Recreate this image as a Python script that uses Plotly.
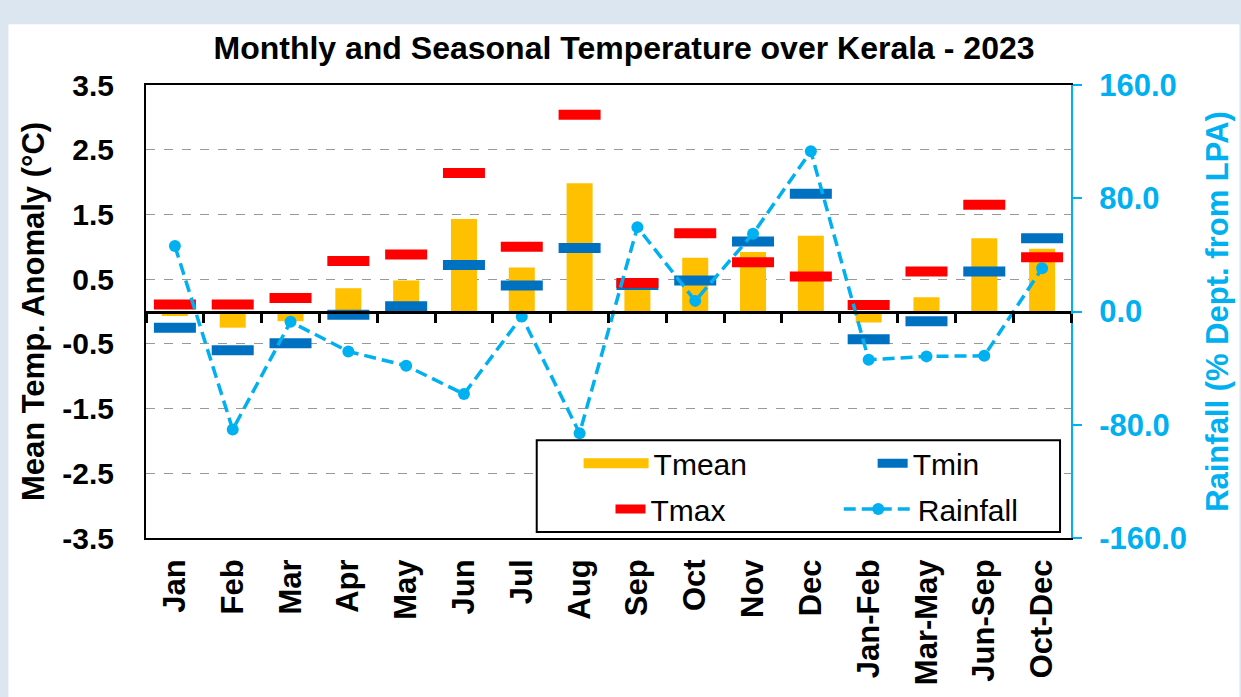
import plotly.graph_objects as go

categories = ["Jan", "Feb", "Mar", "Apr", "May", "Jun", "Jul", "Aug", "Sep", "Oct",
              "Nov", "Dec", "Jan-Feb", "Mar-May", "Jun-Sep", "Oct-Dec"]
tmean = [-0.07, -0.25, -0.15, 0.36, 0.48, 1.43, 0.68, 1.98, 0.40, 0.83, 0.92, 1.17, -0.17, 0.22, 1.13, 0.97]
tmax = [0.11, 0.11, 0.21, 0.78, 0.88, 2.14, 1.00, 3.04, 0.44, 1.21, 0.76, 0.54, 0.10, 0.62, 1.65, 0.84]
tmin = [-0.25, -0.60, -0.49, -0.05, 0.08, 0.72, 0.40, 0.98, 0.41, 0.48, 1.08, 1.82, -0.43, -0.15, 0.62, 1.13]
rainfall = [46.2, -83.4, -7.3, -28.2, -38.3, -58.3, -3.5, -86.0, 59.6, 7.5, 55.0, 113.2, -34.1, -31.7, -31.3, 30.5]
left_ticks = [-3.5, -2.5, -1.5, -0.5, 0.5, 1.5, 2.5, 3.5]
right_ticks = [-160, -80, 0, 80, 160]

C_MEAN = "#FFC000"
C_MAX = "#FF0000"
C_MIN = "#0070C0"
C_RAIN = "#00B0F0"
FONT = "Arial, Liberation Sans, sans-serif"

W, H = 1241, 697
ML, MR, MT, MB = 146, 167, 85, 158
PW, PH = W - ML - MR, H - MT - MB


def px_x(x):
    return (x - ML) / PW


def px_y(y):
    return (H - MB - y) / PH


fig = go.Figure()

# data traces
fig.add_trace(go.Bar(x=categories, y=tmean, name="Tmean", marker=dict(color=C_MEAN, line=dict(width=0)),
                     width=0.45, showlegend=False))
fig.add_trace(go.Scatter(x=categories, y=tmin, mode="markers", name="Tmin", showlegend=False,
                         marker=dict(symbol="line-ew", size=30, color=C_MIN,
                                     line=dict(color=C_MIN, width=10))))
fig.add_trace(go.Scatter(x=categories, y=tmax, mode="markers", name="Tmax", showlegend=False,
                         marker=dict(symbol="line-ew", size=30, color=C_MAX,
                                     line=dict(color=C_MAX, width=10))))
fig.add_trace(go.Scatter(x=categories, y=rainfall, mode="lines+markers", name="Rainfall",
                         yaxis="y2", legend="legend4",
                         line=dict(color=C_RAIN, width=3.5, dash="12px,6px"),
                         marker=dict(symbol="circle", size=12, color=C_RAIN)))
# legend swatches
fig.add_trace(go.Scatter(x=[None], y=[None], mode="lines", name="Tmean", legend="legend",
                         line=dict(color=C_MEAN, width=10)))
fig.add_trace(go.Scatter(x=[None], y=[None], mode="lines", name="Tmin", legend="legend2",
                         line=dict(color=C_MIN, width=9)))
fig.add_trace(go.Scatter(x=[None], y=[None], mode="lines", name="Tmax", legend="legend3",
                         line=dict(color=C_MAX, width=9)))
# helper trace for the zero-line axis
fig.add_trace(go.Scatter(x=categories, y=[None] * len(categories), xaxis="x2", mode="lines",
                         showlegend=False, hoverinfo="skip"))

white_bg = dict(type="rect", xref="paper", yref="paper", layer="below",
                x0=px_x(8), x1=px_x(W + 2), y0=px_y(H + 2), y1=px_y(24),
                fillcolor="white", line=dict(width=0))
legend_box = dict(type="rect", xref="paper", yref="paper", layer="above",
                  x0=px_x(538), x1=px_x(1063), y0=px_y(533), y1=px_y(441),
                  fillcolor="white", line=dict(color="black", width=2))


def leg(x, ycenter, iw):
    return dict(orientation="h", x=px_x(x), xanchor="left", y=px_y(ycenter), yanchor="middle",
                bgcolor="rgba(0,0,0,0)", borderwidth=0, itemwidth=iw,
                font=dict(size=30, family=FONT, color="black"))


fig.update_layout(
    width=W, height=H,
    margin=dict(l=ML, r=MR, t=MT, b=MB),
    paper_bgcolor="#DCE6F1",
    plot_bgcolor="rgba(0,0,0,0)",
    font=dict(family=FONT, color="black"),
    shapes=[white_bg, legend_box],
    barmode="overlay",
    title=dict(text="<b>Monthly and Seasonal Temperature over Kerala - 2023</b>",
               x=624 / W, xref="container", xanchor="center",
               y=1 - 48 / H, yref="container", yanchor="middle",
               font=dict(size=32, family=FONT, color="black")),
    xaxis=dict(type="category", categoryorder="array", categoryarray=categories,
               range=[-0.5, 15.5], showline=True, linecolor="black", linewidth=2, mirror=True,
               ticks="", showgrid=False, tickangle=-90, ticklabelstandoff=7,
               tickfont=dict(size=31, family=FONT, color="black", weight="bold")),
    xaxis2=dict(type="category", categoryorder="array", categoryarray=categories,
                range=[-0.5, 15.5], overlaying="x", anchor="free", position=0.5,
                showline=True, linecolor="black", linewidth=3, showticklabels=False,
                ticks="outside", tickson="boundaries", ticklen=9, tickwidth=2.5, tickcolor="black",
                showgrid=False, zeroline=False),
    yaxis=dict(range=[-3.5, 3.5], tickvals=left_ticks,
               ticktext=[f"{v:.1f}" for v in left_ticks],
               showline=True, linecolor="black", linewidth=2, ticks="",
               showgrid=True, gridcolor="#999999", griddash="dash", gridwidth=1,
               zeroline=False, ticklabelstandoff=24,
               tickfont=dict(size=30, family=FONT, color="black", weight="bold"),
               title=dict(text="<b>Mean Temp. Anomaly (°C)</b>", standoff=8,
                          font=dict(size=31, family=FONT, color="black"))),
    yaxis2=dict(range=[-160, 160], tickvals=right_ticks,
                ticktext=[f"{v:.1f}" for v in right_ticks],
                overlaying="y", side="right", showline=True, linecolor=C_RAIN, linewidth=2,
                ticks="outside", ticklen=9, tickwidth=2, tickcolor=C_RAIN,
                showgrid=False, zeroline=False, ticklabelstandoff=11,
                tickfont=dict(size=31, family=FONT, color=C_RAIN, weight="bold"),
                title=dict(text="<b>Rainfall (% Dept. from LPA)</b>", standoff=20,
                           font=dict(size=31, family=FONT, color=C_RAIN))),
    legend=leg(580, 464, 65),
    legend2=leg(875, 464, 30),
    legend3=leg(612, 510, 30),
    legend4=leg(841, 510, 69),
    hovermode=False,
)

fig.write_html("out.html", config={"displayModeBar": False},
               post_script="document.body.style.margin='0';document.body.style.padding='0';")
